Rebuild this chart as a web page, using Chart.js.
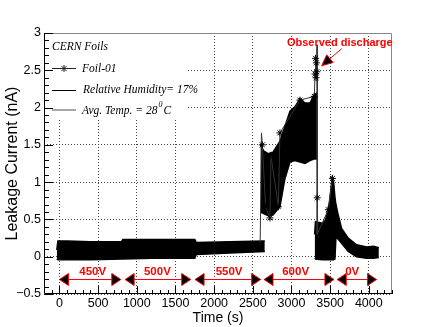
<!DOCTYPE html>
<html>
<head>
<meta charset="utf-8">
<script src="https://cdn.jsdelivr.net/npm/chart.js@4.4.0/dist/chart.umd.min.js"></script>
<style>
  html, body { margin: 0; padding: 0; background: #fff; }
  #wrap { width: 436px; height: 327px; }
</style>
</head>
<body>
<div id="wrap"><canvas id="grafica" width="436" height="327"></canvas></div>
<script>
// ejes
const xTicks = [0, 500, 1000, 1500, 2000, 2500, 3000, 3500, 4000];
const yTicks = [-0.5, 0, 0.5, 1, 1.5, 2, 2.5, 3];

// banda de ruido 450V - 550V (borde superior / inferior)
const tA  = [-35, -20, 100, 400, 800, 820, 1200, 1750, 1770, 2200, 2655];
const hiA = [0.09, 0.21, 0.21, 0.20, 0.20, 0.23, 0.23, 0.23, 0.19, 0.20, 0.21];
const loA = [-0.03, -0.04, -0.04, -0.04, -0.03, -0.03, -0.02, -0.02, 0.03, 0.05, 0.07];

// banda 600V
const tB  = [2600, 2640, 2700, 2760, 2851, 2916, 2981, 3045, 3110, 3175, 3240, 3290, 3335];
const hiB = [1.50, 1.42, 1.38, 1.40, 1.55, 1.75, 1.95, 2.01, 2.12, 2.06, 2.06, 2.17, 2.20];
const loB = [0.60, 0.58, 0.55, 0.56, 0.67, 1.05, 1.27, 1.29, 1.27, 1.25, 1.29, 1.31, 1.31];

// banda despues de la descarga y 0V
const tC  = [3300, 3310, 3400, 3440, 3490, 3525, 3545, 3562, 3575, 3600, 3648, 3734, 3842, 3971, 4060, 4130];
const hiC = [0.30, 0.47, 0.45, 0.49, 0.72, 1.05, 1.00, 0.80, 0.70, 0.58, 0.38, 0.25, 0.16, 0.13, 0.14, 0.12];
const loC = [-0.02, -0.03, -0.04, -0.04, -0.04, -0.04, -0.04, -0.03, 0.26, 0.24, 0.18, 0.07, 0.00, -0.02, -0.02, -0.01];

// lecturas sueltas (Foil-01)
const traceT = [2595, 2612, 2623, 2666, 2722, 2735, 2830, 2851, 3110, 3295, 3305, 3312, 3318, 3322, 3328, 3333, 3333, 3333, 3476, 3530];
const traceV = [0.15, 1.66, 1.50, 0.67, 0.52, 1.36, 0.67, 1.66, 2.10, 2.15, 2.45, 2.66, 2.40, 2.60, 2.48, 2.84, 0.79, 0.30, 0.63, 1.05];

// tramos de voltaje
const voltajes = ['450V', '500V', '550V', '600V', '0V'];
const tramoDesde = [0, 849, 1753, 2645, 3592];
const tramoHasta = [793, 1697, 2602, 3549, 4100];
const tramoTexto = [430, 1266, 2193, 3054, 3786];
const tramoY = -0.3;
const textoY = -0.2;

// descarga observada
const descargaTexto = [3625, 2.86];
const descargaDesde = [3649, 2.79];
const descargaHasta = [3390, 2.56];

const puntos = (ts, vs) => ts.map((t, i) => ({ x: t, y: vs[i] }));

function banda(ts, vs, fill) {
  return {
    data: puntos(ts, vs),
    borderColor: '#000',
    backgroundColor: '#000',
    borderWidth: 1.5,
    pointRadius: 0,
    tension: 0,
    fill: fill
  };
}

function asterisco(ctx, cx, cy, r) {
  const d = r * 0.707;
  ctx.beginPath();
  ctx.moveTo(cx - r, cy); ctx.lineTo(cx + r, cy);
  ctx.moveTo(cx, cy - r); ctx.lineTo(cx, cy + r);
  ctx.moveTo(cx - d, cy - d); ctx.lineTo(cx + d, cy + d);
  ctx.moveTo(cx - d, cy + d); ctx.lineTo(cx + d, cy - d);
  ctx.stroke();
}

const sinMarca = [1, 15, 17];

const marcos = {
  id: 'marcos',
  afterDraw(chart) {
    const { ctx, chartArea: a, scales: { x, y } } = chart;
    ctx.save();

    // caja blanca de la leyenda
    ctx.fillStyle = '#fff';
    ctx.fillRect(a.left + 1, a.top + 1, 186 - a.left, 117 - a.top);

    // marco
    ctx.lineWidth = 1;
    ctx.strokeStyle = '#888';
    ctx.beginPath();
    ctx.moveTo(a.left, a.top + 0.5); ctx.lineTo(a.right - 0.5, a.top + 0.5);
    ctx.lineTo(a.right - 0.5, a.bottom);
    ctx.stroke();
    ctx.strokeStyle = '#000';
    ctx.beginPath();
    ctx.moveTo(a.left + 0.5, a.top); ctx.lineTo(a.left + 0.5, a.bottom - 0.5);
    ctx.lineTo(a.right, a.bottom - 0.5);
    ctx.stroke();

    // marcas de los ejes (hacia dentro)
    ctx.beginPath();
    for (let i = 0; i <= 35; i++) {
      const v = -0.5 + i * 0.1;
      const py = Math.round(y.getPixelForValue(v)) + 0.5;
      const len = i % 5 === 0 ? 9 : 5;
      ctx.moveTo(a.left, py); ctx.lineTo(a.left + len, py);
    }
    for (let v = -100; v <= 4300; v += 100) {
      const px = Math.round(x.getPixelForValue(v)) + 0.5;
      const len = v % 500 === 0 ? 8 : 4;
      ctx.moveTo(px, a.bottom); ctx.lineTo(px, a.bottom - len);
    }
    ctx.stroke();

    // flechas de voltaje
    const ay = Math.round(y.getPixelForValue(tramoY)) + 0.5;
    ctx.font = 'bold 11.5px "Liberation Sans", Arial, sans-serif';
    ctx.textAlign = 'center';
    ctx.textBaseline = 'middle';
    voltajes.forEach((txt, i) => {
      const x1 = x.getPixelForValue(tramoDesde[i]);
      const x2 = x.getPixelForValue(tramoHasta[i]);
      ctx.strokeStyle = '#f00';
      ctx.lineWidth = 1;
      ctx.beginPath(); ctx.moveTo(x1, ay); ctx.lineTo(x2, ay); ctx.stroke();
      [[x1, 9], [x2, -9]].forEach(([tx, w]) => {
        ctx.beginPath();
        ctx.moveTo(tx, ay); ctx.lineTo(tx + w, ay - 6); ctx.lineTo(tx + w, ay + 6); ctx.closePath();
        ctx.fillStyle = '#000'; ctx.fill();
        ctx.stroke();
      });
      ctx.fillStyle = '#f00';
      ctx.fillText(txt, x.getPixelForValue(tramoTexto[i]), y.getPixelForValue(textoY));
    });

    // descarga observada
    ctx.font = 'bold 11px "Liberation Sans", Arial, sans-serif';
    ctx.fillStyle = '#f00';
    ctx.fillText('Observed discharge', x.getPixelForValue(descargaTexto[0]), y.getPixelForValue(descargaTexto[1]));
    const bx = x.getPixelForValue(descargaDesde[0]), by = y.getPixelForValue(descargaDesde[1]);
    const hx = x.getPixelForValue(descargaHasta[0]), hy = y.getPixelForValue(descargaHasta[1]);
    const ang = Math.atan2(hy - by, hx - bx);
    const px = hx - 11 * Math.cos(ang), py = hy - 11 * Math.sin(ang);
    ctx.strokeStyle = '#f00';
    ctx.beginPath(); ctx.moveTo(bx, by); ctx.lineTo(px, py); ctx.stroke();
    ctx.beginPath();
    ctx.moveTo(hx, hy);
    ctx.lineTo(px + 5 * Math.sin(ang), py - 5 * Math.cos(ang));
    ctx.lineTo(px - 5 * Math.sin(ang), py + 5 * Math.cos(ang));
    ctx.closePath();
    ctx.fillStyle = '#000'; ctx.fill(); ctx.stroke();

    // leyenda
    const lx = a.left + 8;
    ctx.font = 'italic 11.5px "Liberation Serif", "Times New Roman", serif';
    ctx.textAlign = 'left';
    ctx.fillStyle = '#000';
    ctx.fillText('CERN Foils', lx, 47);

    ctx.lineWidth = 1;
    ctx.strokeStyle = '#222';
    ctx.beginPath(); ctx.moveTo(lx, 68.5); ctx.lineTo(lx + 24, 68.5); ctx.stroke();
    asterisco(ctx, lx + 12, 68.5, 3.5);
    ctx.fillText('Foil-01', lx + 30, 68.5);

    ctx.strokeStyle = '#000';
    ctx.beginPath(); ctx.moveTo(lx, 90.5); ctx.lineTo(lx + 24, 90.5); ctx.stroke();
    ctx.fillText('Relative Humidity= 17%', lx + 31, 90);

    ctx.strokeStyle = '#888';
    ctx.lineWidth = 1.5;
    ctx.beginPath(); ctx.moveTo(lx, 110); ctx.lineTo(lx + 24, 110); ctx.stroke();
    const t1 = 'Avg. Temp. = 28';
    ctx.fillText(t1, lx + 30, 111);
    let w = ctx.measureText(t1).width;
    ctx.font = 'italic 8px "Liberation Serif", "Times New Roman", serif';
    ctx.fillText('0', lx + 31 + w, 105);
    w += ctx.measureText('0').width + 1;
    ctx.font = 'italic 11.5px "Liberation Serif", "Times New Roman", serif';
    ctx.fillText('C', lx + 31 + w, 111);

    ctx.restore();
  }
};

const ctx = document.getElementById('grafica').getContext('2d');
window.miGrafica = new Chart(ctx, {
  type: 'line',
  data: {
    datasets: [
      {
        data: puntos(traceT, traceV),
        borderColor: '#333',
        borderWidth: 1,
        pointStyle: 'star',
        pointRadius: c => sinMarca.includes(c.dataIndex) ? 0 : 3.5,
        pointBorderColor: '#000',
        pointBorderWidth: 1,
        tension: 0,
        fill: false
      },
      banda(tA, hiA, '+1'),
      banda(tA, loA, false),
      banda(tB, hiB, '+1'),
      banda(tB, loB, false),
      banda(tC, hiC, '+1'),
      banda(tC, loC, false)
    ]
  },
  options: {
    responsive: false,
    animation: false,
    devicePixelRatio: 1,
    layout: { padding: { top: 33, right: 44, left: 0, bottom: 0 } },
    plugins: { legend: { display: false }, tooltip: { enabled: false } },
    scales: {
      x: {
        type: 'linear',
        min: -200,
        max: 4300,
        afterBuildTicks: s => { s.ticks = xTicks.map(v => ({ value: v })); },
        afterFit: s => { s.height = 33; },
        grid: { color: '#444', drawTicks: false },
        border: { display: false, dash: [1, 2] },
        ticks: {
          padding: 2, autoSkip: false, maxRotation: 0, color: '#000',
          font: { family: '"Liberation Sans", Arial, sans-serif', size: 12.5 },
          callback: v => String(v)
        },
        title: {
          display: true, text: 'Time (s)', color: '#000', padding: 0,
          font: { family: '"Liberation Sans", Arial, sans-serif', size: 14 }
        }
      },
      y: {
        min: -0.5,
        max: 3,
        afterBuildTicks: s => { s.ticks = yTicks.map(v => ({ value: v })); },
        afterFit: s => { s.width = 44; },
        grid: { color: '#444', drawTicks: false },
        border: { display: false, dash: [1, 2] },
        ticks: {
          padding: 3, color: '#000',
          font: { family: '"Liberation Sans", Arial, sans-serif', size: 12.5 },
          callback: v => v < 0 ? '\u2212' + Math.abs(v) : String(v)
        },
        title: {
          display: true, text: 'Leakage Current (nA)', color: '#000', padding: { top: 3, bottom: 0 },
          font: { family: '"Liberation Sans", Arial, sans-serif', size: 16 }
        }
      }
    }
  },
  plugins: [marcos]
});
</script>
</body>
</html>
